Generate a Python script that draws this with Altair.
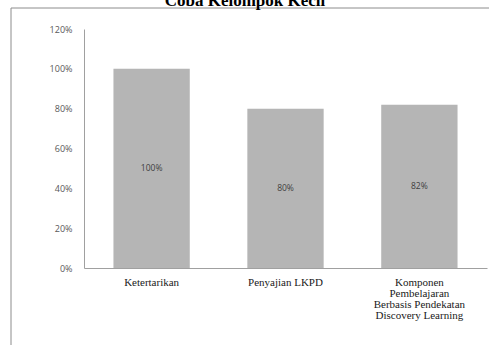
import altair as alt
import pandas as pd

# Survey results for the small-group trial
categories = [
    "Ketertarikan",
    "Penyajian LKPD",
    "Komponen Pembelajaran Berbasis Pendekatan Discovery Learning",
]
label_lines = [
    ["Ketertarikan"],
    ["Penyajian LKPD"],
    ["Komponen", "Pembelajaran", "Berbasis Pendekatan", "Discovery Learning"],
]
values = [1.00, 0.80, 0.82]
value_text = ["100%", "80%", "82%"]
y_ticks = [0, 0.2, 0.4, 0.6, 0.8, 1.0, 1.2]

df = pd.DataFrame({"kategori": categories, "nilai": values, "teks": value_text})
df["mid"] = df["nilai"] / 2

label_expr = "{" + ", ".join(
    '"%s": %s' % (c, "[" + ", ".join('"%s"' % s for s in lines) + "]")
    for c, lines in zip(categories, label_lines)
) + "}[datum.value]"

x_axis = alt.Axis(title=None, labelAngle=0, labelExpr=label_expr)
y_axis = alt.Axis(title=None, values=y_ticks, format=".0%")
x_scale = alt.Scale(paddingInner=0.43, paddingOuter=0.22)
y_scale = alt.Scale(domain=[0, 1.2], nice=False)

bars = alt.Chart(df).mark_bar(color="#b5b5b5").encode(
    x=alt.X("kategori:N", sort=categories, scale=x_scale, axis=x_axis),
    y=alt.Y("nilai:Q", scale=y_scale, axis=y_axis),
)

labels = alt.Chart(df).mark_text(
    font="Open Sans", fontSize=8.5, color="#404040"
).encode(
    x=alt.X("kategori:N", sort=categories, scale=x_scale, axis=x_axis),
    y=alt.Y("mid:Q", scale=y_scale, axis=y_axis),
    text="teks:N",
)

# Title, partly above the top edge of the frame
title = alt.Chart(pd.DataFrame({"t": ["Coba Kelompok Kecil"]})).mark_text(
    font="Liberation Serif", fontSize=17, fontWeight="bold", color="#000000",
    baseline="alphabetic",
).encode(x=alt.value(161), y=alt.value(-23), text="t:N")

# Outer frame lines (left and top)
frame_left = alt.Chart(pd.DataFrame({"a": [0]})).mark_rule(color="#8c8c8c", strokeWidth=1).encode(
    x=alt.value(-73), y=alt.value(-21), y2=alt.value(320)
)
frame_top = alt.Chart(pd.DataFrame({"a": [0]})).mark_rule(color="#8c8c8c", strokeWidth=1).encode(
    x=alt.value(-73), x2=alt.value(410), y=alt.value(-21)
)

chart = (
    alt.layer(frame_left, frame_top, bars, labels, title)
    .properties(
        width=403,
        height=239,
        autosize="none",
        background="white",
        padding={"left": 84, "top": 29, "right": 2, "bottom": 77},
    )
    .configure_view(stroke=None)
    .configure_axis(ticks=False, grid=False, domainColor="#a0a0a0", labelOverlap=False)
    .configure_axisX(
        labelFont="Liberation Serif",
        labelFontSize=11,
        labelColor="#1a1a1a",
        labelPadding=8,
        labelLineHeight=11,
        labelLimit=200,
    )
    .configure_axisY(
        labelFont="Open Sans",
        labelFontSize=9,
        labelColor="#595959",
        labelPadding=12,
        labelBound=False,
    )
)

chart.save("out.html", embed_options={"renderer": "svg", "actions": False})
